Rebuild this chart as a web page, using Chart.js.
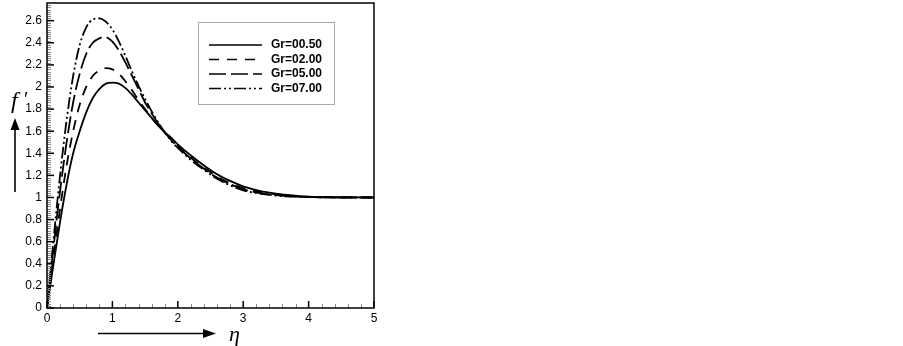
<!DOCTYPE html>
<html>
<head>
<meta charset="utf-8">
<script src="https://cdn.jsdelivr.net/npm/chart.js@4.4.0/dist/chart.umd.min.js"></script>
<style>
  html, body { margin: 0; padding: 0; background: #fff; }
  #wrap { width: 903px; height: 346px; position: relative; }
</style>
</head>
<body>
<div id="wrap"><canvas id="myChart"></canvas></div>
<script>
// eta values (x axis)
var eta = [0, 0.1, 0.2, 0.3, 0.4, 0.5, 0.6, 0.7, 0.8, 0.9, 1.0, 1.1, 1.2, 1.3, 1.4, 1.5, 1.6, 1.7, 1.8, 1.9, 2.0,
           2.2, 2.4, 2.6, 2.8, 3.0, 3.25, 3.5, 3.75, 4.0, 4.5, 5.0];

// f' for each Gr
var gr050 = [0, 0.40, 0.78, 1.12, 1.40, 1.60, 1.77, 1.90, 1.98, 2.03, 2.04, 2.03, 1.99, 1.93, 1.86, 1.79, 1.72, 1.65, 1.59, 1.54, 1.48,
             1.38, 1.29, 1.21, 1.15, 1.10, 1.06, 1.035, 1.018, 1.008, 1.002, 1.0];
var gr200 = [0, 0.46, 0.90, 1.29, 1.60, 1.84, 2.00, 2.10, 2.15, 2.17, 2.16, 2.12, 2.05, 1.97, 1.88, 1.80, 1.72, 1.65, 1.59, 1.53, 1.47,
             1.36, 1.27, 1.19, 1.13, 1.085, 1.05, 1.03, 1.014, 1.006, 1.001, 1.0];
var gr500 = [0, 0.55, 1.06, 1.50, 1.86, 2.12, 2.30, 2.40, 2.44, 2.45, 2.41, 2.33, 2.22, 2.10, 1.98, 1.86, 1.76, 1.67, 1.59, 1.52, 1.46,
             1.35, 1.26, 1.18, 1.12, 1.075, 1.04, 1.022, 1.01, 1.004, 1.0, 1.0];
var gr700 = [0, 0.62, 1.20, 1.70, 2.10, 2.38, 2.54, 2.61, 2.62, 2.59, 2.52, 2.41, 2.28, 2.14, 2.01, 1.89, 1.78, 1.68, 1.59, 1.51, 1.45,
             1.34, 1.25, 1.17, 1.11, 1.065, 1.035, 1.017, 1.008, 1.003, 1.0, 1.0];

var seriesNames = ['Gr=00.50', 'Gr=02.00', 'Gr=05.00', 'Gr=07.00'];
var seriesDash = [[], [10, 8], [17, 5], [12, 3, 2, 3, 2, 3]];

function pts(arr) {
    return eta.map(function (e, i) { return { x: e, y: arr[i] }; });
}

var allSeries = [gr050, gr200, gr500, gr700];
var datasets = allSeries.map(function (s, i) {
    return {
        label: seriesNames[i],
        data: pts(s),
        borderColor: '#000',
        borderWidth: 1.8,
        borderDash: seriesDash[i],
        pointRadius: 0,
        fill: false,
        cubicInterpolationMode: 'monotone'
    };
});

// frame, inward ticks, legend box, arrows and axis symbols
var decor = {
    id: 'decor',
    afterDraw: function (chart) {
        var ctx = chart.ctx;
        var a = chart.chartArea;
        var xs = chart.scales.x, ys = chart.scales.y;
        ctx.save();

        // minor ticks y (0.02)
        ctx.strokeStyle = '#888';
        ctx.lineWidth = 1;
        for (var k = 0; k <= 138; k++) {
            var v = k * 0.02;
            if (k % 10 === 0) continue;
            var py = Math.round(ys.getPixelForValue(v)) + 0.5;
            if (py < a.top + 1) continue;
            ctx.beginPath(); ctx.moveTo(a.left, py); ctx.lineTo(a.left + 4, py); ctx.stroke();
        }
        // minor ticks x (0.2)
        for (var j = 0; j <= 25; j++) {
            if (j % 5 === 0) continue;
            var px = Math.round(xs.getPixelForValue(j * 0.2)) + 0.5;
            ctx.beginPath(); ctx.moveTo(px, a.bottom); ctx.lineTo(px, a.bottom - 4); ctx.stroke();
        }
        // major ticks
        ctx.strokeStyle = '#000';
        ctx.lineWidth = 1.5;
        for (var m = 0; m <= 13; m++) {
            var py2 = ys.getPixelForValue(m * 0.2);
            ctx.beginPath(); ctx.moveTo(a.left, py2); ctx.lineTo(a.left + 7, py2); ctx.stroke();
        }
        for (var n = 0; n <= 5; n++) {
            var px2 = xs.getPixelForValue(n);
            ctx.beginPath(); ctx.moveTo(px2, a.bottom); ctx.lineTo(px2, a.bottom - 7); ctx.stroke();
        }
        // frame
        ctx.lineWidth = 1.5;
        ctx.strokeRect(a.left, a.top, a.right - a.left, a.bottom - a.top);

        // legend box
        var lx = 198, ly = 22, lw = 136, lh = 82;
        ctx.fillStyle = '#fff';
        ctx.fillRect(lx, ly, lw, lh);
        ctx.strokeStyle = '#aaa';
        ctx.lineWidth = 1;
        ctx.strokeRect(lx + 0.5, ly + 0.5, lw, lh);
        ctx.font = 'bold 12px "Liberation Sans", Arial, sans-serif';
        ctx.textBaseline = 'middle';
        ctx.fillStyle = '#000';
        chart.data.datasets.forEach(function (ds, i) {
            var yy = 45 + i * 14.5;
            ctx.strokeStyle = '#000';
            ctx.lineWidth = 1.6;
            ctx.setLineDash(ds.borderDash);
            ctx.beginPath(); ctx.moveTo(209, yy); ctx.lineTo(262, yy); ctx.stroke();
            ctx.setLineDash([]);
            ctx.fillText(ds.label, 271, yy);
        });

        // y arrow
        ctx.strokeStyle = '#000';
        ctx.fillStyle = '#000';
        ctx.lineWidth = 1.6;
        ctx.beginPath(); ctx.moveTo(15, 192); ctx.lineTo(15, 128); ctx.stroke();
        ctx.beginPath(); ctx.moveTo(15, 118); ctx.lineTo(10.5, 130); ctx.lineTo(19.5, 130); ctx.closePath(); ctx.fill();
        // x arrow
        ctx.beginPath(); ctx.moveTo(98, 333.5); ctx.lineTo(205, 333.5); ctx.stroke();
        ctx.beginPath(); ctx.moveTo(216, 333.5); ctx.lineTo(203, 329); ctx.lineTo(203, 338); ctx.closePath(); ctx.fill();

        // axis symbols
        ctx.font = 'italic 24px "Liberation Serif", serif';
        ctx.textBaseline = 'alphabetic';
        ctx.textAlign = 'left';
        ctx.fillText('f', 11, 108);
        ctx.font = '20px "Liberation Serif", serif';
        ctx.fillText('\u2032', 24, 106);
        ctx.font = 'italic 22px "Liberation Serif", serif';
        ctx.fillText('\u03b7', 229, 341);
        ctx.restore();
    }
};

const config = {
    type: 'line',
    data: { datasets: datasets },
    options: {
        responsive: false,
        animation: false,
        layout: { padding: { left: 0, right: 529, top: 3, bottom: 0 } },
        plugins: { legend: { display: false }, tooltip: { enabled: false } },
        scales: {
            x: {
                type: 'linear', min: 0, max: 5,
                border: { display: false },
                grid: { display: false, drawTicks: false },
                ticks: { stepSize: 1, color: '#000', padding: 3,
                         font: { family: '"Liberation Sans", Arial, sans-serif', size: 12 } },
                afterFit: function (s) { s.height = 38; s.paddingLeft = 0; s.paddingRight = 0; }
            },
            y: {
                min: 0, max: 2.76,
                border: { display: false },
                grid: { display: false, drawTicks: false },
                ticks: { stepSize: 0.2, includeBounds: false, color: '#000', padding: 5,
                         font: { family: '"Liberation Sans", Arial, sans-serif', size: 12 },
                         callback: function (v) { return Math.round(v * 10) / 10; } },
                afterFit: function (s) { s.width = 47; s.paddingTop = 0; s.paddingBottom = 0; }
            }
        }
    },
    plugins: [decor]
};

var cv = document.getElementById('myChart');
cv.width = 903; cv.height = 346;
var myChart = new Chart(cv, config);
</script>
</body>
</html>
